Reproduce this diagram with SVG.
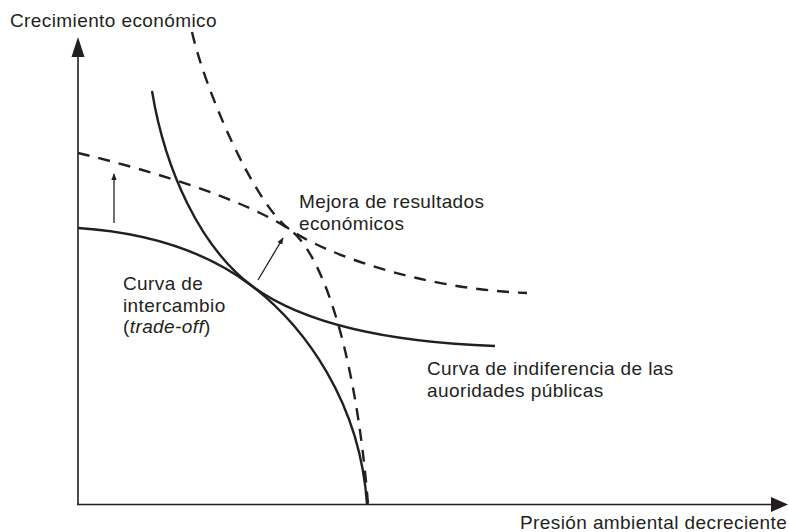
<svg xmlns="http://www.w3.org/2000/svg" width="789" height="532" viewBox="0 0 789 532">
<style>
text{font-family:"Liberation Sans",Arial,sans-serif;font-size:19px;letter-spacing:0.4px;fill:#231f20}
.axis{stroke:#231f20;stroke-width:1.6;fill:none}
.curve{stroke:#231f20;stroke-width:2.4;fill:none}
.dash{stroke:#231f20;stroke-width:2.4;fill:none;stroke-dasharray:12 9}
.thin{stroke:#231f20;stroke-width:1.3;fill:none}
.head{fill:#231f20}
</style>
<defs>
<marker id="sm" viewBox="0 0 10 10" refX="9" refY="5" markerWidth="7" markerHeight="7" markerUnits="userSpaceOnUse" orient="auto">
<path d="M0,1 L10,5 L0,9 Z" class="head"/>
</marker>
</defs>
<g id="axes">
<line class="axis" x1="78" y1="50" x2="78" y2="505"/>
<line class="axis" x1="77" y1="504.5" x2="776" y2="504.5"/>
<path class="head" d="M78,37 L84.5,57 L71.5,57 Z"/>
<path class="head" d="M788,504.5 L771,497 L771,512 Z"/>
</g>
<g id="connectors">
<path id="tradeoff" class="curve" d="M78,228 C140,232 202,248 252,286 C305,327 360,402 367,504"/>
<path id="indifference" class="curve" d="M152,91 C165,170 200,247 252,286 C290,314 360,341 495,346"/>
<path id="tradeoff-new" class="dash" d="M78,153 C150,170 243,199 289,229 C319,249 355,342 368,504"/>
<path id="indifference-new" class="dash" d="M192,32 C205,90 254,203 289,229 C323,253 420,289 527,293"/>
<line class="thin" x1="114" y1="223" x2="114" y2="174" marker-end="url(#sm)"/>
<line class="thin" x1="258" y1="280" x2="283" y2="238" marker-end="url(#sm)"/>
</g>
<g id="label-y"><text x="10" y="27">Crecimiento económico</text></g>
<g id="label-x"><text x="520" y="529">Presión ambiental decreciente</text></g>
<g id="label-mejora"><text x="299" y="208">Mejora de resultados</text><text x="299" y="230">económicos</text></g>
<g id="label-tradeoff"><text x="123" y="290">Curva de</text><text x="123" y="312">intercambio</text><text x="123" y="333">(<tspan font-style="italic">trade-off</tspan>)</text></g>
<g id="label-indif"><text x="427" y="375">Curva de indiferencia de las</text><text x="427" y="397">auoridades públicas</text></g>
</svg>
